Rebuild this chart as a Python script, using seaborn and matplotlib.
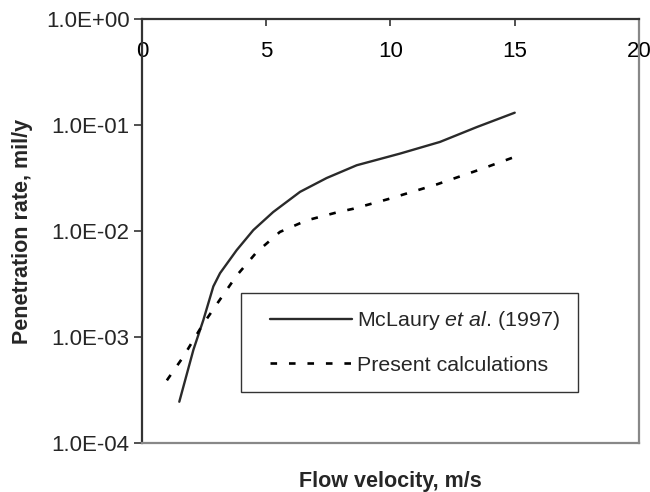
import numpy as np
import pandas as pd
import matplotlib
matplotlib.use("Agg")
import matplotlib.pyplot as plt
from matplotlib.ticker import FuncFormatter, NullLocator, FixedLocator
from matplotlib.patches import Rectangle
import seaborn as sns

# ---- data ----
mclaury_v = [1.5, 2.07, 2.47, 2.87, 3.14, 3.81, 4.48, 5.28, 6.36, 7.43, 8.64, 10.38, 11.99, 13.47, 15.0]
mclaury_rate = [2.45e-4, 7.6e-4, 1.45e-3, 3.0e-3, 4.0e-3, 6.6e-3, 1.02e-2, 1.51e-2, 2.34e-2,
                3.16e-2, 4.17e-2, 5.37e-2, 6.92e-2, 9.55e-2, 0.1306]
present_v = [1.0, 1.66, 2.40, 3.07, 3.81, 4.61, 5.55, 6.63, 7.9, 8.5, 9.91, 11.86, 13.6, 15.0]
present_rate = [3.9e-4, 6.5e-4, 1.26e-3, 2.14e-3, 3.8e-3, 6.3e-3, 9.8e-3, 1.26e-2, 1.51e-2,
                1.62e-2, 2.0e-2, 2.75e-2, 3.8e-2, 5.0e-2]
x_ticks = [0, 5, 10, 15, 20]
y_ticks = [1e-4, 1e-3, 1e-2, 1e-1, 1e0]
label_mclaury = "McLaury $\\it{et\\ al.}\\,$(1997)"
label_present = "Present calculations"

sns.set_style("white")
plt.rcParams['font.family'] = ['Liberation Sans', 'DejaVu Sans']
plt.rcParams['mathtext.fontset'] = 'custom'
plt.rcParams['mathtext.rm'] = 'Liberation Sans'
plt.rcParams['mathtext.it'] = 'Liberation Sans:italic'

FS = 16
FS_LAB = 15.5
FS_LEG = 15.4

fig = plt.figure(figsize=(6.5, 4.92), dpi=100)
ax = fig.add_axes([0.2185, 0.0996, 0.7645, 0.8618])

df1 = pd.DataFrame({"v": mclaury_v, "r": mclaury_rate})
df2 = pd.DataFrame({"v": present_v, "r": present_rate})
sns.lineplot(data=df1, x="v", y="r", ax=ax, color="#2a2a2a", linewidth=1.7,
             sort=False, estimator=None, label=label_mclaury)
sns.lineplot(data=df2, x="v", y="r", ax=ax, color="#000000", linewidth=1.9,
             sort=False, estimator=None, label=label_present, linestyle=(0, (2.5, 4.5)))

ax.set_yscale("log")
ax.set_xlim(0, 20)
ax.set_ylim(1e-4, 1e0)
ax.yaxis.set_major_locator(FixedLocator(y_ticks))
ax.yaxis.set_minor_locator(NullLocator())
ax.yaxis.set_major_formatter(FuncFormatter(lambda v, p: f"{v:.1E}"))
ax.xaxis.set_major_locator(FixedLocator(x_ticks))
ax.xaxis.set_major_formatter(FuncFormatter(lambda v, p: f"{v:g}"))

ax.xaxis.tick_top()
ax.tick_params(axis='x', direction='in', length=5, width=1.2, color="#333333",
               labelsize=FS, pad=-31, labelcolor="#000000")
ax.tick_params(axis='y', direction='out', length=6, width=1.2, color="#333333",
               labelsize=FS, pad=3, left=True)

for s in ['left', 'top']:
    ax.spines[s].set_color('#333333')
    ax.spines[s].set_linewidth(1.6)
for s in ['right', 'bottom']:
    ax.spines[s].set_color('#888888')
    ax.spines[s].set_linewidth(1.6)

ax.set_xlabel("Flow velocity, m/s", fontsize=FS_LAB, fontweight='bold', labelpad=20)
ax.xaxis.set_label_position('bottom')
ax.set_ylabel("Penetration rate, mil/y", fontsize=FS_LAB, fontweight='bold', labelpad=9)

# legend frame drawn as a plain rectangle
ax.add_patch(Rectangle((0.1992, 0.1203), 0.6781, 0.2335, transform=ax.transAxes,
                       facecolor='white', edgecolor='#333333', linewidth=1.0, zorder=4))
leg = ax.legend(loc='center left', bbox_to_anchor=(0.2575, 0.238),
                fontsize=FS_LEG, frameon=False, borderpad=0, labelspacing=1.1,
                handlelength=3.85, handletextpad=0.22, borderaxespad=0)
leg.set_zorder(5)

fig.savefig("out.png", dpi=100)
